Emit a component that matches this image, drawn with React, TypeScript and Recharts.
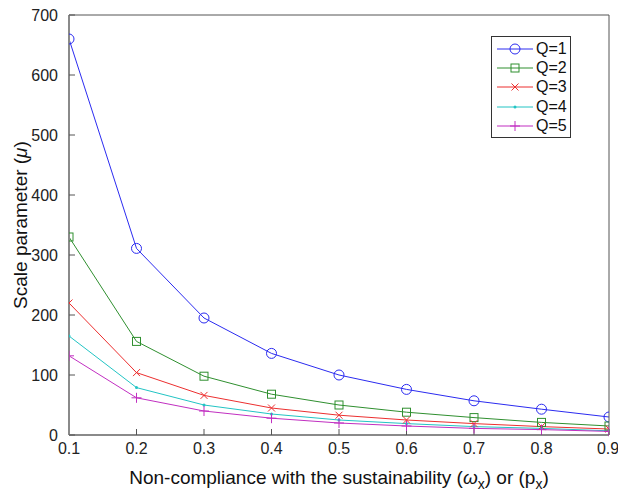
import { LineChart, Line, XAxis, YAxis } from "recharts";

const xValues = [0.1, 0.2, 0.3, 0.4, 0.5, 0.6, 0.7, 0.8, 0.9];
const q1 = [660, 311, 195, 136, 100, 76, 57, 43, 30];
const q2 = [330, 156, 98, 68, 50, 38, 29, 21, 15];
const q3 = [220, 104, 66, 45, 33, 25, 19, 14, 10];
const q4 = [165, 79, 50, 35, 25, 19, 14, 11, 7];
const q5 = [132, 62, 40, 28, 20, 15, 11, 9, 6];
const yTicks = [0, 100, 200, 300, 400, 500, 600, 700];

const FONT = "'Liberation Sans', Arial, sans-serif";

const data = xValues.map((x, i) => ({
  x,
  q1: q1[i],
  q2: q2[i],
  q3: q3[i],
  q4: q4[i],
  q5: q5[i],
}));

type Marker = "circle" | "square" | "cross" | "dot" | "plus";

const series: { key: string; name: string; color: string; marker: Marker }[] = [
  { key: "q1", name: "Q=1", color: "#2b2bf0", marker: "circle" },
  { key: "q2", name: "Q=2", color: "#2f8f2f", marker: "square" },
  { key: "q3", name: "Q=3", color: "#ec2f2f", marker: "cross" },
  { key: "q4", name: "Q=4", color: "#22c4c4", marker: "dot" },
  { key: "q5", name: "Q=5", color: "#c12fc1", marker: "plus" },
];

function markerShape(m: Marker, cx: number, cy: number, color: string, key?: string) {
  switch (m) {
    case "circle":
      return <circle key={key} cx={cx} cy={cy} r={5} fill="none" stroke={color} strokeWidth={1} />;
    case "square":
      return <rect key={key} x={cx - 4} y={cy - 4} width={8} height={8} fill="none" stroke={color} strokeWidth={1} />;
    case "cross":
      return (
        <g key={key} stroke={color} strokeWidth={1}>
          <line x1={cx - 3.5} y1={cy - 3.5} x2={cx + 3.5} y2={cy + 3.5} />
          <line x1={cx - 3.5} y1={cy + 3.5} x2={cx + 3.5} y2={cy - 3.5} />
        </g>
      );
    case "dot":
      return <circle key={key} cx={cx} cy={cy} r={1.5} fill={color} stroke="none" />;
    default:
      return (
        <g key={key} stroke={color} strokeWidth={1}>
          <line x1={cx - 5} y1={cy} x2={cx + 5} y2={cy} />
          <line x1={cx} y1={cy - 5} x2={cx} y2={cy + 5} />
        </g>
      );
  }
}

const makeDot = (m: Marker, color: string) => (props: any) => {
  const { cx, cy, index } = props;
  if (cx == null || cy == null) return <g key={index} />;
  return markerShape(m, cx, cy, color, String(index));
};

// legend drawn as a plain overlay so it doesn't eat chart space
function LegendBox() {
  return (
    <div
      style={{
        position: "absolute",
        left: 491,
        top: 36,
        border: "1px solid #333",
        background: "#fff",
        width: 80,
        height: 102,
        boxSizing: "border-box",
        paddingTop: 2,
      }}
    >
      {series.map((s) => (
        <div key={s.key} style={{ display: "flex", alignItems: "center", height: 19.4 }}>
          <svg width={44} height={16} style={{ flex: "none" }}>
            <line x1={5} y1={8} x2={41} y2={8} stroke={s.color} strokeWidth={1} />
            {markerShape(s.marker, 23, 8, s.color)}
          </svg>
          <span style={{ fontFamily: FONT, fontSize: 16, color: "#111", lineHeight: "16px" }}>{s.name}</span>
        </div>
      ))}
    </div>
  );
}

const XTitle = (props: any) => {
  const vb = props.viewBox || {};
  const cx = vb.x + vb.width / 2;
  return (
    <text x={cx} y={484} textAnchor="middle" fontFamily={FONT} fontSize={19} fill="#111">
      Non-compliance with the sustainability (
      <tspan fontStyle="italic">ω</tspan>
      <tspan dy={5} fontSize={14}>x</tspan>
      <tspan dy={-5}>) or (p</tspan>
      <tspan dy={5} fontSize={14}>x</tspan>
      <tspan dy={-5}>)</tspan>
    </text>
  );
};

const YTitle = (props: any) => {
  const vb = props.viewBox || {};
  const cy = vb.y + vb.height / 2;
  return (
    <text
      x={0}
      y={0}
      transform={`translate(27, ${cy}) rotate(-90)`}
      textAnchor="middle"
      fontFamily={FONT}
      fontSize={19}
      fill="#111"
    >
      Scale parameter (<tspan fontStyle="italic">μ</tspan>)
    </text>
  );
};

export default function App() {
  const tickStyle = { fontFamily: FONT, fontSize: 16, fill: "#222" };
  return (
    <div style={{ position: "absolute", left: 0, top: 0, width: 618, height: 495, background: "#fff" }}>
      <LineChart width={618} height={495} data={data} margin={{ top: 0, right: 0, bottom: 0, left: 0 }}>
        <XAxis
          dataKey="x"
          type="number"
          domain={[0.1, 0.9]}
          ticks={xValues}
          tickFormatter={(v: number) => v.toFixed(1)}
          height={60}
          tickSize={-6}
          tickMargin={14}
          axisLine={{ stroke: "#8a8a8a", strokeWidth: 2 }}
          tickLine={{ stroke: "#555" }}
          tick={tickStyle}
          allowDataOverflow
          label={<XTitle />}
        />
        <XAxis
          xAxisId="top"
          orientation="top"
          type="number"
          domain={[0.1, 0.9]}
          ticks={xValues}
          height={15}
          tickSize={-6}
          axisLine={{ stroke: "#555", strokeWidth: 1 }}
          tickLine={{ stroke: "#555" }}
          tick={false}
        />
        <YAxis
          type="number"
          domain={[0, 700]}
          ticks={yTicks}
          width={69}
          tickSize={-6}
          tickMargin={17}
          axisLine={{ stroke: "#8a8a8a", strokeWidth: 2 }}
          tickLine={{ stroke: "#555" }}
          tick={tickStyle}
          label={<YTitle />}
        />
        <YAxis
          yAxisId="right"
          orientation="right"
          type="number"
          domain={[0, 700]}
          ticks={yTicks}
          width={9}
          tickSize={-6}
          axisLine={{ stroke: "#555", strokeWidth: 1 }}
          tickLine={{ stroke: "#555" }}
          tick={false}
        />
        {series.map((s) => (
          <Line
            key={s.key}
            dataKey={s.key}
            name={s.name}
            type="linear"
            stroke={s.color}
            strokeWidth={1}
            dot={makeDot(s.marker, s.color)}
            activeDot={false}
            isAnimationActive={false}
          />
        ))}
      </LineChart>
      <LegendBox />
    </div>
  );
}
